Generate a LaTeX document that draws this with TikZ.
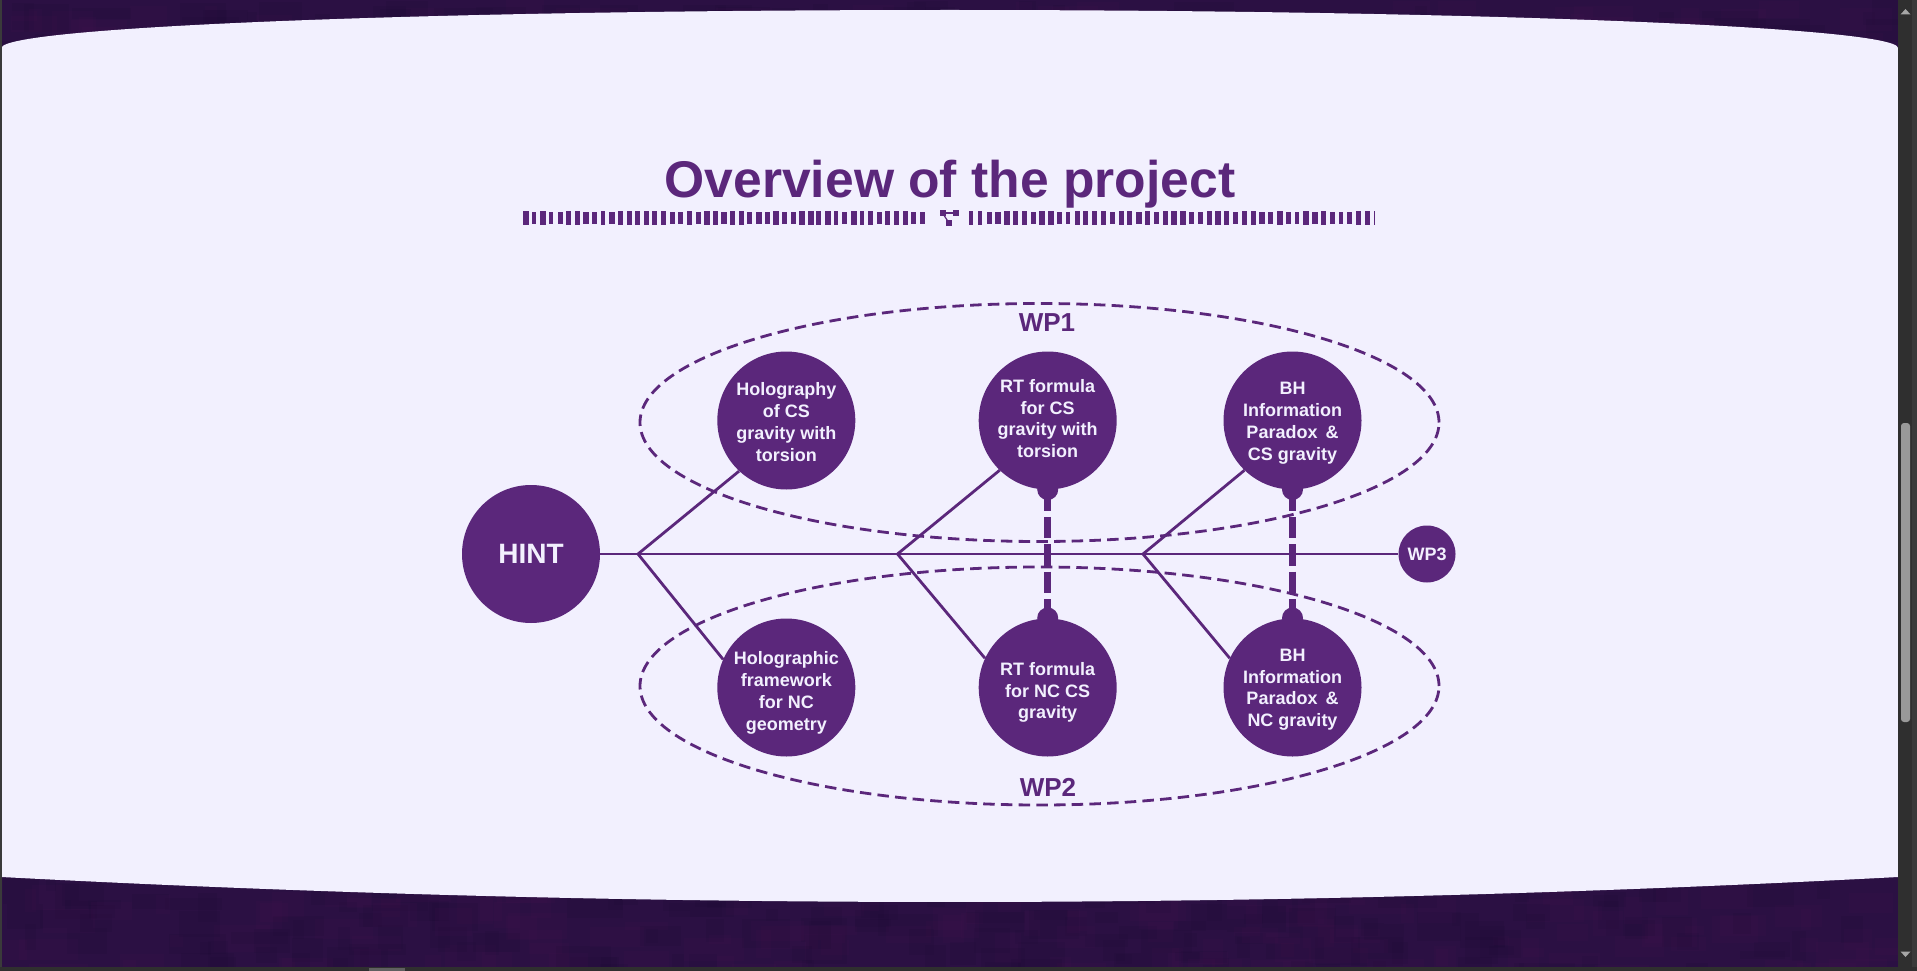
\documentclass[tikz,border=0pt]{standalone}
\usepackage{fontspec}
\setmainfont{Liberation Sans}
\usetikzlibrary{shapes.geometric}
\definecolor{plum}{HTML}{5B277B}
\definecolor{paper}{HTML}{F2F0FE}
\definecolor{night}{HTML}{2B1043}
\definecolor{nightdark}{HTML}{1C0C33}
\definecolor{nightwarm}{HTML}{44124F}
\definecolor{chrome}{HTML}{2F2F2F}
\definecolor{chromeb}{HTML}{3A3A3A}
\newcommand{\cellstack}[2]{\raisebox{\dimexpr#1-4.5pt\relax}[0pt][0pt]{\begin{tabular}{@{}c@{}}#2\end{tabular}}}
\tikzset{
  bigdot/.style={circle,fill=plum,draw=none,inner sep=0pt,minimum size=138pt,text=paper,font=\bfseries\fontsize{18}{21.7}\selectfont,align=center},
  hintdot/.style={bigdot,font=\bfseries\fontsize{28}{30}\selectfont},
  wpdot/.style={circle,fill=plum,inner sep=0pt,minimum size=57pt,text=paper,font=\bfseries\fontsize{18}{20}\selectfont},
  knob/.style={circle,fill=plum,inner sep=0pt,minimum size=21pt},
  wpring/.style={ellipse,draw=plum,line width=2.8pt,dash pattern=on 11.5pt off 6.2pt,inner sep=0pt,minimum width=799pt,minimum height=238pt},
  wplabel/.style={text=plum,font=\bfseries\fontsize{26}{28}\selectfont,inner sep=0pt,anchor=base},
  link/.style={draw=plum,line width=2.8pt},
  bridge/.style={draw=plum,line width=7pt,dash pattern=on 21.4pt off 6pt}
}
\begin{document}
\begin{tikzpicture}[x=1pt,y=-1pt]
\useasboundingbox (0,0) rectangle (1917,971);
% page background and texture
\fill[night] (0,0) rectangle (1917,971);
\pgfmathsetseed{11}
\foreach \i in {1,...,500}{
  \pgfmathsetmacro{\px}{rnd*1880}
  \pgfmathsetmacro{\py}{rnd<0.35 ? rnd*45 : 875+rnd*90}
  \pgfmathsetmacro{\pw}{10+rnd*50}
  \pgfmathsetmacro{\ph}{8+rnd*22}
  \pgfmathsetmacro{\pick}{rnd}
  \ifdim\pick pt<0.5pt
    \fill[nightdark,opacity=.14] (\px,\py) rectangle ++(\pw,\ph);
  \else
    \fill[nightwarm,opacity=.14] (\px,\py) rectangle ++(\pw,\ph);
  \fi
}
% light sheet
\fill[paper] (1.5,48) arc[start angle=180,end angle=0,x radius=948.25pt,y radius=38pt]
  -- (1898,877) .. controls (1266,910.3) and (634,910.3) .. (1.5,877) -- cycle;
% window chrome
\fill[chromeb] (0,0) rectangle (1.5,971);
\fill[chrome] (1898,0) rectangle (1917,971);
\fill[chromeb] (1912,0) rectangle (1917,971);
\fill[chrome] (0,967) rectangle (1917,971);
\fill[gray!80] (1901,722) [rounded corners=3pt] rectangle (1910,423);
\fill[gray!75!black] (369,968) rectangle (405,971);
\fill[gray!70] (1900.5,14.5) -- (1905.5,9) -- (1910.5,14.5) -- cycle;
\fill[gray!70] (1900.5,951.5) -- (1905.5,957) -- (1910.5,951.5) -- cycle;
% title
\node[text=plum,font=\bfseries\fontsize{51.6}{56}\selectfont,inner sep=0pt,anchor=base] (title) at (950,197) {Overview of the project};
% divider
\pgfmathsetseed{5}
\foreach \i in {0,...,46}{
  \pgfmathsetmacro{\bx}{523+\i*8.63}
  \pgfmathsetmacro{\bh}{5.9+rnd*1.5}
  \pgfmathsetmacro{\bw}{4.4+rnd*1.4}
  \fill[plum] (\bx,218-\bh) rectangle (\bx+\bw,218+\bh);
}
\foreach \i in {0,...,46}{
  \pgfmathsetmacro{\bx}{969+\i*8.8}
  \pgfmathsetmacro{\bh}{5.9+rnd*1.5}
  \pgfmathsetmacro{\bw}{\i==46 ? 1.5 : 4.4+rnd*1.4}
  \fill[plum] (\bx,218-\bh) rectangle (\bx+\bw,218+\bh);
}
\fill[plum] (939.5,210) rectangle (945.5,215.5);
\fill[plum] (953,210) rectangle (959,216);
\fill[plum] (946,220) rectangle (952,226);
\draw[plum,line width=1.2pt] (942.5,213) -- (956,213);
\draw[plum,line width=1.2pt] (942.5,213) -- (949,223);
% rings
\node[wpring] (ringa) at (1039.5,422.5) {};
\node[wpring] (ringb) at (1039.5,686) {};
\node[wplabel] (wpa) at (1047,331.7) {WP1};
\node[wplabel] (wpb) at (1048,796.7) {WP2};
% fork points
\coordinate (fa) at (638,554);
\coordinate (fb) at (897.5,554);
\coordinate (fc) at (1143,554);
% circles
\node[hintdot] (hint) at (531,554) {HINT};
\node[wpdot] (wpc) at (1427,554) {WP3};
\node[bigdot] (ta) at (786.3,420.5) {\cellstack{-3.5pt}{Holography\\of CS\\gravity with\\torsion}};
\node[bigdot] (tb) at (1047.7,420.5) {\cellstack{0pt}{RT formula\\for CS\\gravity with\\torsion}};
\node[bigdot] (tc) at (1292.5,420.5) {\cellstack{-2.5pt}{BH\\Information\\Paradox\hspace{3pt} \&\\CS gravity}};
\node[bigdot] (ba) at (786.3,687.5) {\cellstack{-5.5pt}{Holographic\\framework\\for NC\\geometry}};
\node[bigdot] (bb) at (1047.7,687.5) {\cellstack{-5pt}{RT formula\\for NC CS\\gravity}};
\node[bigdot] (bc) at (1292.5,687.5) {\cellstack{-2pt}{BH\\Information\\Paradox\hspace{3pt} \&\\NC gravity}};
% knobs
\node[knob] (ka) at (1047.7,489.5) {};
\node[knob] (kb) at (1047.7,618) {};
\node[knob] (kc) at (1292.5,489.5) {};
\node[knob] (kd) at (1292.5,618) {};
% connectors
\draw[link] (hint) -- (wpc);
\draw[link] (fa) -- (ta.227);
\draw[link] (fa) -- (ba.156);
\draw[link] (fb) -- (tb.226);
\draw[link] (fb) -- (bb.155);
\draw[link] (fc) -- (tc.226);
\draw[link] (fc) -- (bc.155);
\draw[bridge] (ka.center) -- (kb.center);
\draw[bridge] (kc.center) -- (kd.center);
\end{tikzpicture}
\end{document}
